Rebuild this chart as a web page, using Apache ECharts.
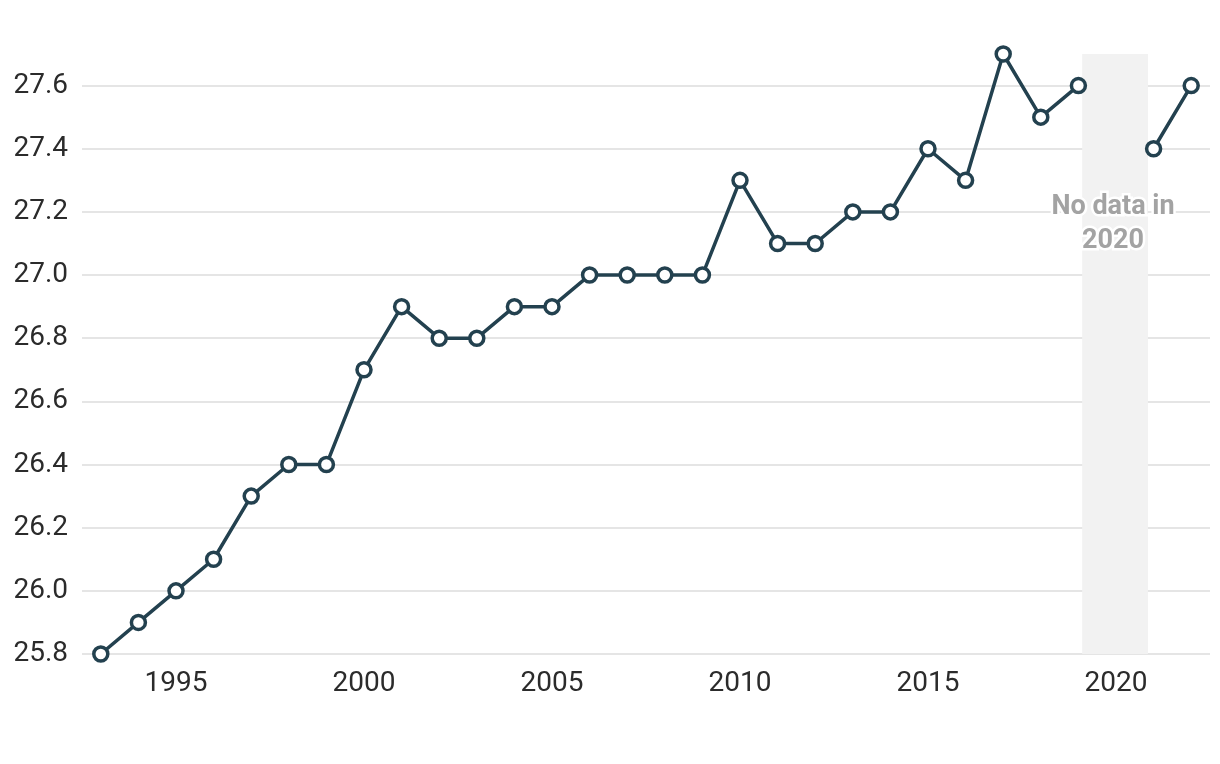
<!DOCTYPE html>
<html>
<head>
<meta charset="utf-8">
<script src="https://cdn.jsdelivr.net/npm/echarts@6/dist/echarts.min.js"></script>
<style>
html,body{margin:0;padding:0;background:#fff;}
#c{width:1220px;height:764px;}
</style>
</head>
<body>
<div id="c"></div>
<script>
const years = [1993,1994,1995,1996,1997,1998,1999,2000,2001,2002,2003,2004,2005,2006,2007,2008,2009,2010,2011,2012,2013,2014,2015,2016,2017,2018,2019,2020,2021,2022];
const values = [25.8,25.9,26.0,26.1,26.3,26.4,26.4,26.7,26.9,26.8,26.8,26.9,26.9,27.0,27.0,27.0,27.0,27.3,27.1,27.1,27.2,27.2,27.4,27.3,27.7,27.5,27.6,null,27.4,27.6];
const xTickLabels = [1995,2000,2005,2010,2015,2020];
const noDataBand = [2019.1, 2020.85];
const noDataLabel = "No data in\n2020";
const noDataLabelPos = [2019.92, 27.16];

const chart = echarts.init(document.getElementById('c'), null, {renderer:'canvas'});
const font = 'Roboto, "Noto Sans", sans-serif';
chart.setOption({
  animation: false,
  backgroundColor: '#ffffff',
  grid: {left: 82, right: 10, top: 54, bottom: 110, containLabel: false},
  xAxis: {
    type: 'value',
    min: 1992.5,
    max: 2022.5,
    interval: 0.5,
    axisLine: {show: false},
    axisTick: {show: false},
    splitLine: {show: false},
    axisLabel: {
      margin: 16,
      fontSize: 28,
      color: '#2b2b2b',
      fontFamily: font,
      formatter: v => xTickLabels.indexOf(v) >= 0 ? String(v) : ''
    }
  },
  yAxis: {
    type: 'value',
    min: 25.8,
    max: 27.7,
    interval: 0.2,
    axisLine: {show: false},
    axisTick: {show: false},
    splitLine: {show: true, showMaxLine: false, lineStyle: {color: '#e5e5e5', width: 2}},
    axisLabel: {
      margin: 14,
      fontSize: 28,
      color: '#2b2b2b',
      fontFamily: font,
      showMaxLabel: false,
      formatter: v => v.toFixed(1)
    }
  },
  series: [{
    type: 'line',
    data: years.map((y, i) => [y, values[i] === null ? '-' : values[i]]),
    connectNulls: false,
    symbol: 'circle',
    symbolSize: 14,
    showSymbol: true,
    lineStyle: {color: '#23414f', width: 3.5},
    itemStyle: {color: '#ffffff', borderColor: '#23414f', borderWidth: 3.5},
    z: 5,
    markArea: {
      silent: true,
      itemStyle: {color: '#f2f2f2'},
      data: [[{xAxis: noDataBand[0]}, {xAxis: noDataBand[1]}]],
      z: 1
    },
    markPoint: {
      silent: true,
      symbol: 'circle',
      symbolSize: 0,
      data: [{coord: noDataLabelPos}],
      label: {
        show: true,
        position: 'inside',
        formatter: noDataLabel,
        fontSize: 27,
        fontWeight: 'bold',
        fontFamily: font,
        color: '#a3a3a3',
        lineHeight: 34,
        align: 'center',
        textBorderColor: '#ffffff',
        textBorderWidth: 5
      }
    }
  }]
});
</script>
</body>
</html>
